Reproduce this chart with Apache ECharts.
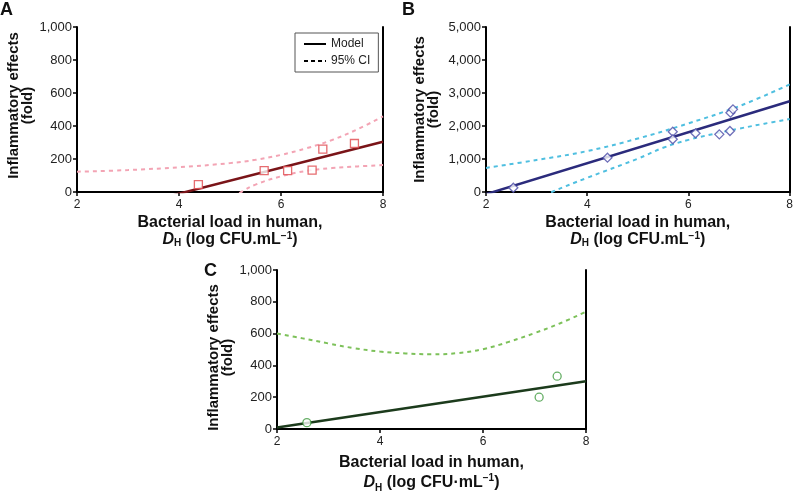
<!DOCTYPE html>
<html>
<head>
<meta charset="utf-8">
<script src="https://cdn.jsdelivr.net/npm/echarts@6/dist/echarts.min.js"></script>
<style>
  html, body { margin: 0; padding: 0; background: #fff; }
  #chart { width: 796px; height: 494px; }
</style>
</head>
<body>
<div id="chart"></div>
<script>
// panel A
const aPointsX = [4.38, 5.67, 6.13, 6.61, 6.82, 7.44]
const aPointsY = [45, 129, 129, 133, 260, 294]
const aModelX = [3.9, 8.0]
const aModelY = [-18, 305]
const aUpperX = [2, 3, 4, 5, 5.5, 6, 6.5, 7, 7.5, 8]
const aUpperY = [123, 133, 150, 175, 195, 225, 265, 315, 380, 458]
const aLowerX = [4.8, 5.0, 5.25, 5.5, 6, 6.5, 7, 7.5, 8]
const aLowerY = [-90, -45, 5, 45, 95, 128, 145, 155, 163]

// panel B
const bPointsX = [2.54, 4.40, 5.69, 5.69, 6.14, 6.61, 6.82, 6.83, 6.88]
const bPointsY = [130, 1040, 1827, 1596, 1778, 1747, 1848, 2404, 2505]
const bModelX = [2.0, 8.0]
const bModelY = [-66, 2750]
const bUpperX = [2, 3, 4, 5, 6, 7, 8]
const bUpperY = [730, 970, 1240, 1620, 2080, 2600, 3260]
const bLowerX = [3.0, 3.3, 4, 5, 5.5, 6, 6.5, 7, 7.5, 8]
const bLowerY = [-220, 0, 430, 1010, 1340, 1580, 1760, 1920, 2070, 2210]

// panel C
const cPointsX = [2.58, 7.09, 7.44]
const cPointsY = [40, 200, 332]
const cModelX = [2, 8]
const cModelY = [10, 300]
const cUpperX = [2, 2.5, 3, 3.5, 4, 4.5, 5, 5.5, 6, 6.5, 7, 7.5, 8]
const cUpperY = [600, 570, 538, 508, 487, 475, 470, 477, 502, 548, 603, 665, 738]

const xTicks = [2, 8, 2] // min, max, interval

const zip = (xs, ys) => xs.map((x, i) => [x, ys[i]])
const FONT = 'Liberation Sans, Arial, sans-serif'
const fmt = v => String(v).replace(/\B(?=(\d{3})+(?!\d))/g, ',')

const chart = echarts.init(document.getElementById('chart'))

const xName = (dot, lh, gap) => ({
  name: '{a|Bacterial load in human,}\n{i|D}{s|H}{a| (log CFU' + dot + 'mL}{p|\u22121}{a|)}',
  nameLocation: 'middle',
  nameGap: gap,
  nameTextStyle: {
    fontFamily: FONT,
    rich: {
      a: { fontSize: 16, fontWeight: 'bold', color: '#111', lineHeight: lh, fontFamily: FONT },
      i: { fontSize: 16, fontWeight: 'bold', fontStyle: 'italic', color: '#111', lineHeight: lh, fontFamily: FONT },
      s: { fontSize: 10, fontWeight: 'bold', color: '#111', lineHeight: 10, verticalAlign: 'bottom', fontFamily: FONT },
      p: { fontSize: 10, fontWeight: 'bold', color: '#111', lineHeight: 10, verticalAlign: 'top', fontFamily: FONT }
    }
  }
})

const mkX = (grid, dot, lh, gap) => Object.assign({
  type: 'value',
  gridIndex: grid,
  min: xTicks[0],
  max: xTicks[1],
  interval: xTicks[2],
  axisLine: { show: true, lineStyle: { color: '#000', width: 2 } },
  axisTick: { show: true, length: 4, lineStyle: { color: '#000', width: 1.5 } },
  axisLabel: { fontSize: 12, color: '#222', fontFamily: FONT, margin: 7 },
  splitLine: { show: false }
}, xName(dot, lh, gap))

// pad shifts the rotated name along the axis (right pad = down)
const mkY = (grid, max, interval, gap, pad) => ({
  type: 'value',
  gridIndex: grid,
  min: 0,
  max: max,
  interval: interval,
  name: 'Inflammatory effects\n(fold)',
  nameLocation: 'middle',
  nameGap: gap,
  nameTextStyle: { fontSize: 15, fontWeight: 'bold', color: '#111', lineHeight: 14, fontFamily: FONT, padding: pad },
  axisLine: { show: true, lineStyle: { color: '#000', width: 2 } },
  axisTick: { show: true, length: 4, lineStyle: { color: '#000', width: 1.5 } },
  axisLabel: { fontSize: 13, color: '#222', fontFamily: FONT, margin: 5, formatter: fmt },
  splitLine: { show: false }
})

// right edge of each frame
const mkRight = grid => ({
  type: 'value',
  gridIndex: grid,
  position: 'right',
  min: 0,
  max: 1,
  axisLine: { show: true, onZero: false, lineStyle: { color: '#000', width: 2 } },
  axisTick: { show: false },
  axisLabel: { show: false },
  splitLine: { show: false }
})

const model = (name, xi, yi, data, color) => ({
  name: name, type: 'line', xAxisIndex: xi, yAxisIndex: yi, data: data,
  symbol: 'none', lineStyle: { color: color, width: 2.5 }, z: 3
})
const ci = (name, xi, yi, data, color) => ({
  name: name, type: 'line', xAxisIndex: xi, yAxisIndex: yi, data: data, smooth: 0.4,
  symbol: 'none', lineStyle: { color: color, width: 2, type: [4, 4] }, z: 2
})
const pts = (name, xi, yi, data, symbol, size, color) => ({
  name: name, type: 'scatter', xAxisIndex: xi, yAxisIndex: yi, data: data,
  symbol: symbol, symbolSize: size,
  itemStyle: { color: '#fff', borderColor: color, borderWidth: 1.3 }, z: 4
})

const option = {
  animation: false,
  backgroundColor: '#fff',
  textStyle: { fontFamily: FONT },
  grid: [
    { left: 77, top: 27, width: 306, height: 165 },
    { left: 486, top: 27, width: 306, height: 165 },
    { left: 277, top: 270, width: 309, height: 164 }
  ],
  xAxis: [mkX(0, '.', 17, 22), mkX(1, '.', 17, 22), mkX(2, '\u00b7', 20, 24)],
  yAxis: [
    mkY(0, 1000, 200, 37, [0, 0, 0, 8]), mkRight(0),
    mkY(1, 5000, 1000, 45, [0, 0, 0, 0]), mkRight(1),
    mkY(2, 1000, 200, 36, [0, 16, 0, 0]), mkRight(2)
  ],
  legend: {
    data: ['Model', '95% CI'],
    orient: 'vertical',
    left: 295,
    top: 33,
    padding: [5, 8],
    itemGap: 5,
    itemWidth: 22,
    itemHeight: 12,
    borderColor: '#555',
    borderWidth: 1,
    borderRadius: 0,
    selectedMode: false,
    itemStyle: { opacity: 0 },
    textStyle: { fontSize: 12, color: '#222', fontFamily: FONT }
  },
  graphic: [
    { type: 'text', left: 0, top: 1, style: { text: 'A', font: 'bold 18px ' + FONT, fill: '#111' } },
    { type: 'text', left: 402, top: 1, style: { text: 'B', font: 'bold 18px ' + FONT, fill: '#111' } },
    { type: 'text', left: 204, top: 262, style: { text: 'C', font: 'bold 18px ' + FONT, fill: '#111' } }
  ],
  series: [
    // legend samples
    { name: 'Model', type: 'line', xAxisIndex: 0, yAxisIndex: 0, data: [], symbol: 'none', lineStyle: { color: '#000', width: 2.5 }, itemStyle: { color: '#000' } },
    { name: '95% CI', type: 'line', xAxisIndex: 0, yAxisIndex: 0, data: [], symbol: 'none', lineStyle: { color: '#000', width: 1.5, type: [4, 3] }, itemStyle: { color: '#000' } },

    ci('A upper', 0, 0, zip(aUpperX, aUpperY), '#f3a4b4'),
    ci('A lower', 0, 0, zip(aLowerX, aLowerY), '#f3a4b4'),
    model('A model', 0, 0, zip(aModelX, aModelY), '#7a1418'),
    pts('A data', 0, 0, zip(aPointsX, aPointsY), 'rect', 8, '#e0474c'),

    ci('B upper', 1, 2, zip(bUpperX, bUpperY), '#4fbfe0'),
    ci('B lower', 1, 2, zip(bLowerX, bLowerY), '#4fbfe0'),
    model('B model', 1, 2, zip(bModelX, bModelY), '#2b2b7c'),
    pts('B data', 1, 2, zip(bPointsX, bPointsY), 'diamond', 9, '#4b4ba8'),

    ci('C upper', 2, 4, zip(cUpperX, cUpperY), '#7dc15a'),
    model('C model', 2, 4, zip(cModelX, cModelY), '#1c3b1c'),
    pts('C data', 2, 4, zip(cPointsX, cPointsY), 'circle', 8, '#3f9a3f')
  ]
}

chart.setOption(option)
</script>
</body>
</html>
